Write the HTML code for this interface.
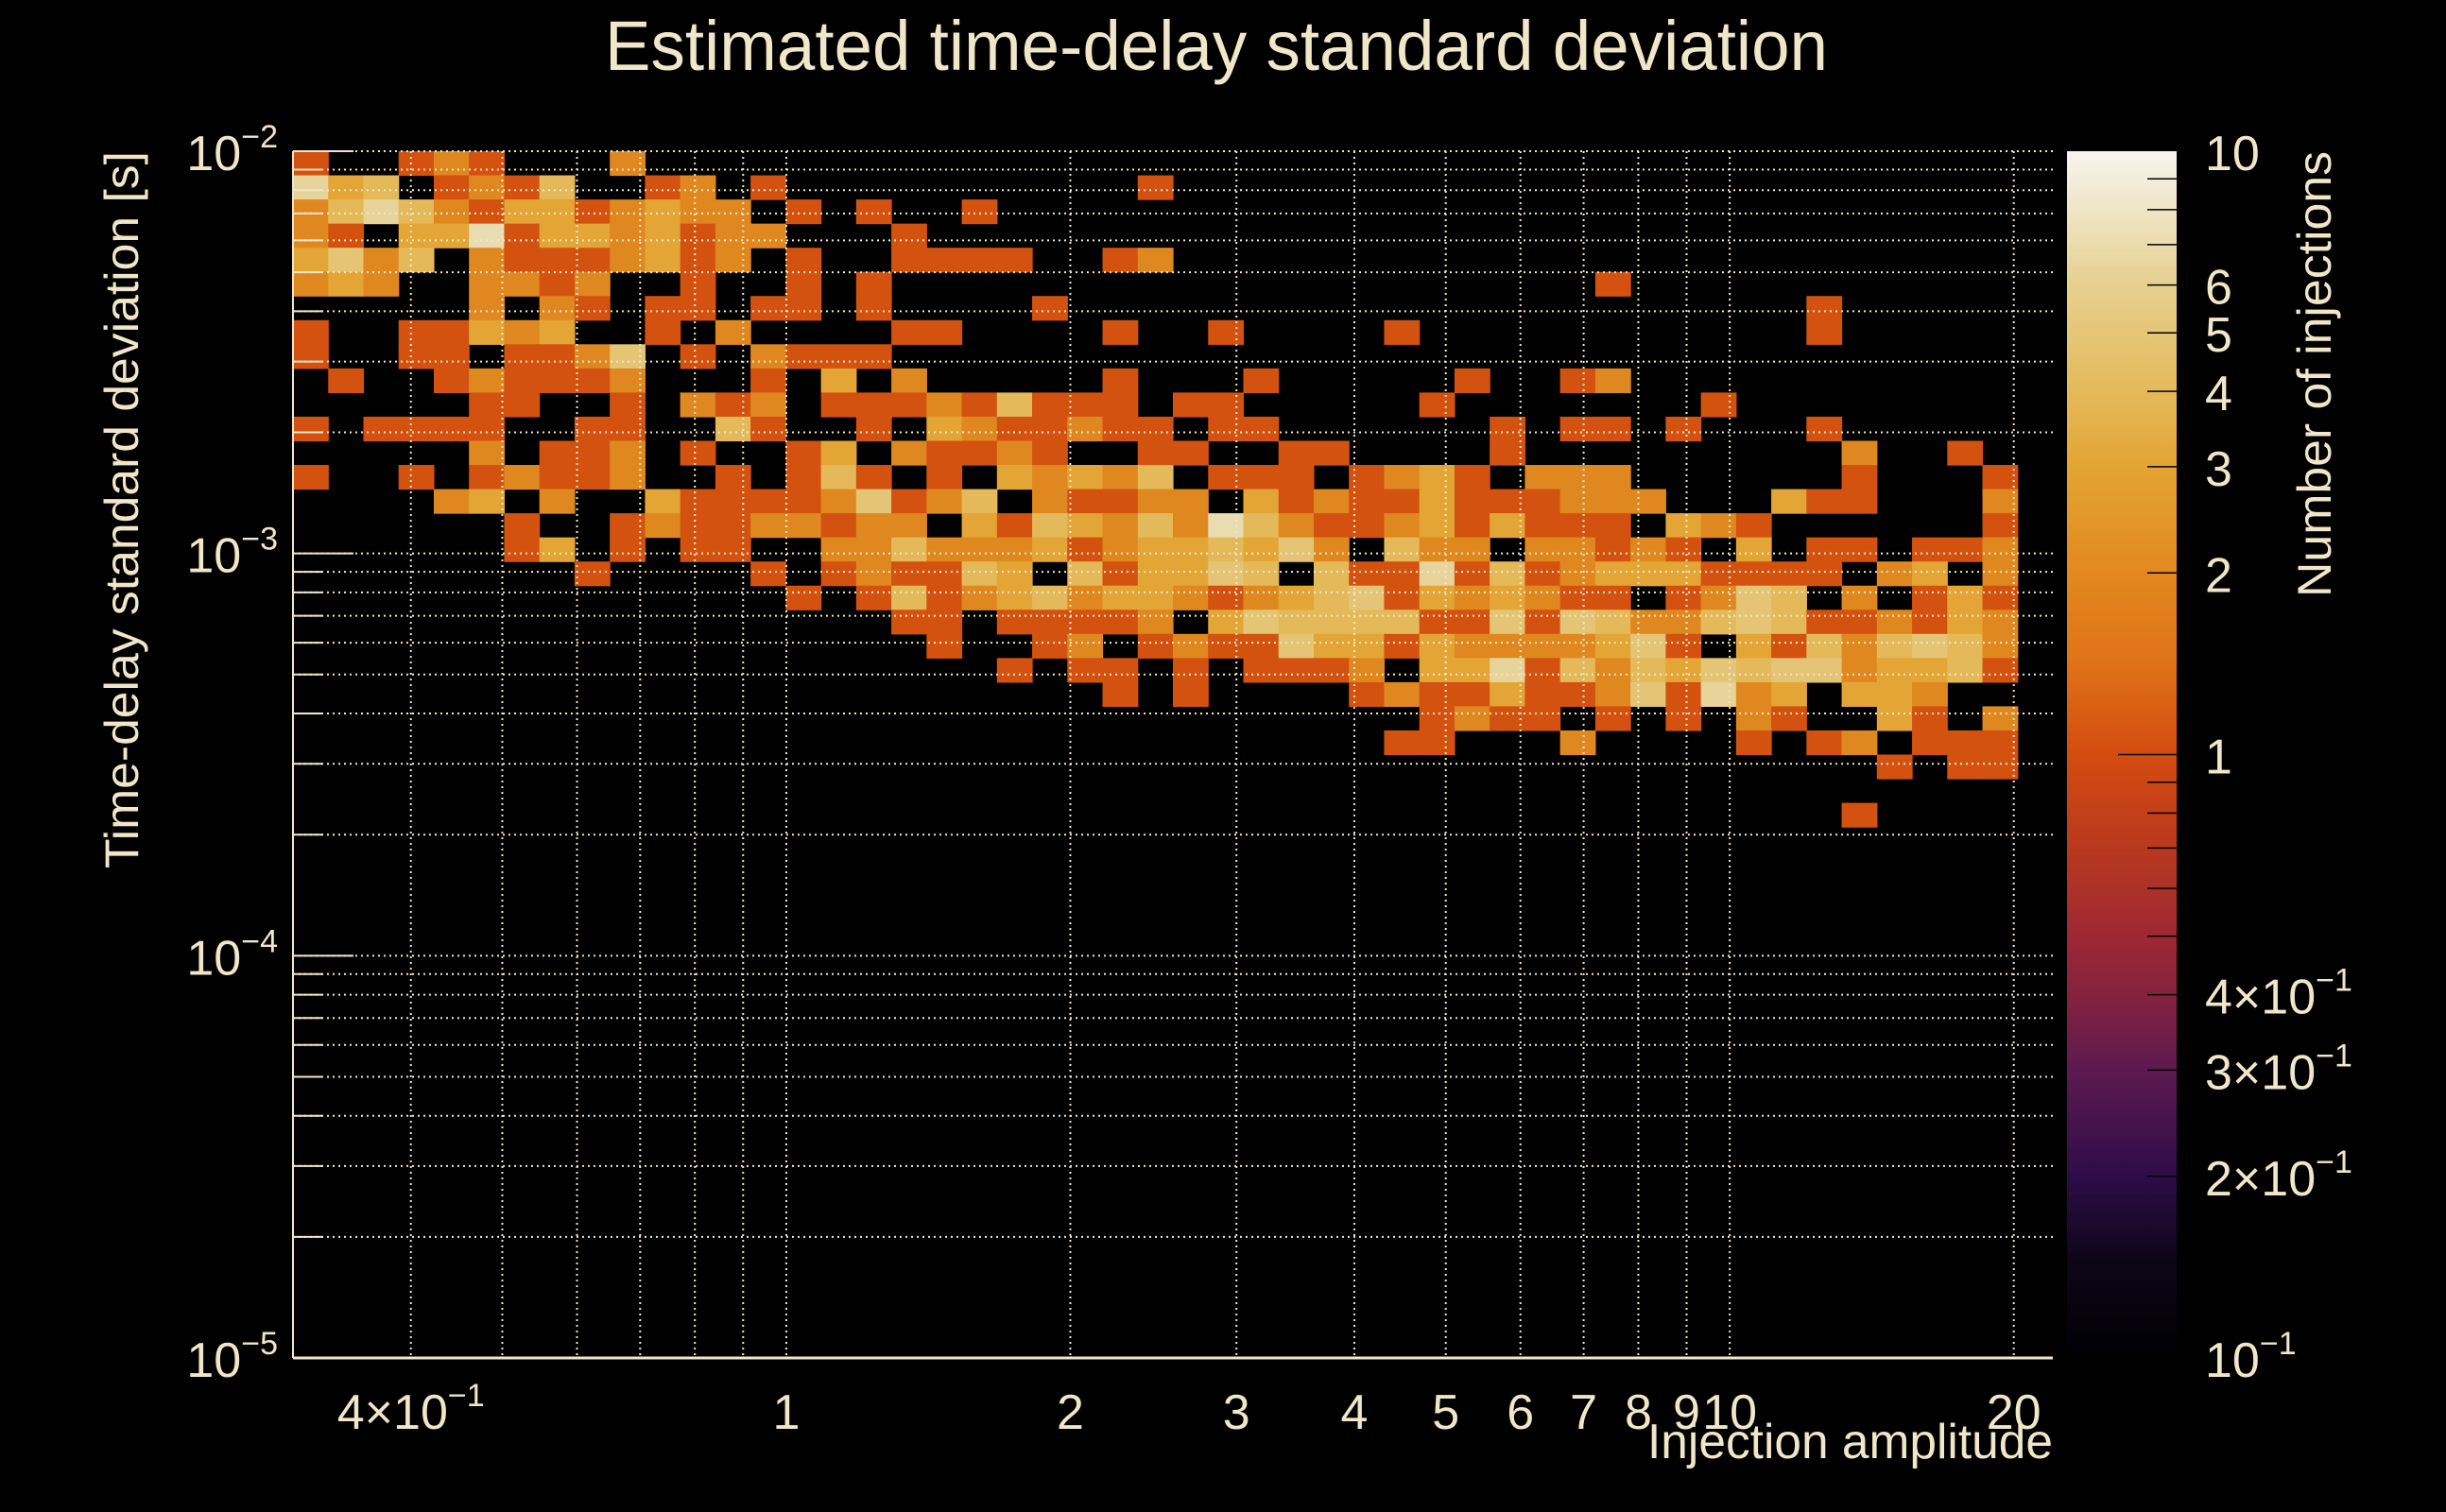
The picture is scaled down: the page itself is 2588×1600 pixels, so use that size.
<!DOCTYPE html>
<html><head><meta charset="utf-8">
<style>
html,body{margin:0;padding:0;background:#000;}
svg{display:block;}
text{font-family:"Liberation Sans",sans-serif;fill:#f0e6c8;}
</style></head>
<body>
<svg id="chart" width="2588" height="1600" viewBox="0 0 2588 1600" xmlns="http://www.w3.org/2000/svg">
<defs>
<linearGradient id="pal" x1="0" y1="1" x2="0" y2="0">
<stop offset="0" stop-color="#000004"/>
<stop offset="0.08" stop-color="#0d0618"/>
<stop offset="0.15" stop-color="#2e0c48"/>
<stop offset="0.24" stop-color="#5e1a50"/>
<stop offset="0.30" stop-color="#84223f"/>
<stop offset="0.35" stop-color="#9e2834"/>
<stop offset="0.42" stop-color="#b8381f"/>
<stop offset="0.50" stop-color="#d44c10"/>
<stop offset="0.58" stop-color="#df7418"/>
<stop offset="0.65" stop-color="#e3881e"/>
<stop offset="0.74" stop-color="#e3a535"/>
<stop offset="0.80" stop-color="#e4b95a"/>
<stop offset="0.89" stop-color="#e6d090"/>
<stop offset="1" stop-color="#f7f5ef"/>
</linearGradient>
</defs>
<text x="1287" y="74" font-size="74" text-anchor="middle" textLength="1294" lengthAdjust="spacingAndGlyphs">Estimated time-delay standard deviation</text>
<g id="cells"></g>
<g id="grid"></g>
<g id="axes"></g>
<text transform="translate(146,919) rotate(-90)" font-size="50" textLength="759" lengthAdjust="spacingAndGlyphs">Time-delay standard deviation [s]</text>
<text x="2172" y="1543" font-size="52" text-anchor="end" textLength="429" lengthAdjust="spacingAndGlyphs">Injection amplitude</text>
<rect x="2187" y="160" width="116" height="1277" fill="url(#pal)"/>
<g id="cbaxis"></g>
<text transform="translate(2466,632) rotate(-90)" font-size="50" textLength="472" lengthAdjust="spacingAndGlyphs">Number of injections</text>
</svg>
<script>
// ---- data ----
const nBinsX = 50, nBinsY = 50;
const xRange = [0.3, 22];
const yRange = [1e-5, 1e-2];
// counts per row (row 0 = top, largest std-dev bin); three column segments: cols 0-16, 17-33, 34-49
const segA = ["10012100020000000","63401214001201000","24642133123220101","21033713323122000","35240211123120100","23200221200100101","00000202101101101","10011323001020000","10011011250102111","01001211120001030","00000110010212011","10111100110041001","00000201120100130","10010121120010141","00002302003111125","00000010012112212","00000013010110022","00000000100001012","00000000000000101"];
const segB = ["00000000000000000","00000001000000000","00100000000000000","10000000000000000","11110012000000000","00000000000000000","00001000000000000","11000010010000100","00000000000000000","20000010001000001","12141110110000010","03211211011000000","21121001100110000","01032324011101231","12402112203121131","20314324274211231","42223123343520422","11430413354041161","41234233212345132","11011112035444411","01001201211533132","00010110101112033","00000010100001211","00000000000000012","00000000000000110"];
const segC = ["0000000000000000","0000000000000000","0000000000000000","0000000000000000","0000000000000000","0001000000000000","0000000001000000","0000000001000000","0000000000000000","0012000000000000","0000001000000000","1011010001000000","1000000000200100","0222000000100010","1122200031100020","3111032100000010","0221210301101120","4123331111023020","3211012540201310","5154224541121320","2223510314245420","6142435455233410","3112516230332000","1101010210031020","0020000101201110","0000000000010110","0000000000000000","0000000000100000"];
const xTickValues = [0.4, 1, 2, 3, 4, 5, 6, 7, 8, 9, 10, 20];
const xTickLabels = ["4×10", "1", "2", "3", "4", "5", "6", "7", "8", "9", "10", "20"];
const yMajorExps = [-2, -3, -4, -5];
const cbTickValues = [10, 6, 5, 4, 3, 2, 1, 0.4, 0.3, 0.2, 0.1];
const cbTickLabels = ["10", "6", "5", "4", "3", "2", "1", "4×10", "3×10", "2×10", "10"];

// ---- layout ----
const PL = 310, PR = 2172, PT = 160, PB = 1437;
const lx0 = Math.log10(xRange[0]), lx1 = Math.log10(xRange[1]);
const ly0 = Math.log10(yRange[0]), ly1 = Math.log10(yRange[1]);
function xS(v){ return PL + (Math.log10(v) - lx0) / (lx1 - lx0) * (PR - PL); }
function yS(v){ return PB - (Math.log10(v) - ly0) / (ly1 - ly0) * (PB - PT); }
function cbS(v){ return PB - (Math.log10(v) + 1) / 2 * (PB - PT); }
const palette = ["#000000","#d35210","#e08820","#e3a535","#e4b95a","#e4c575","#e6d49a","#e9dcb0","#eee5c4","#f2ecd6"];
const NS = "http://www.w3.org/2000/svg";
function mk(tag, attrs, parent){ const e = document.createElementNS(NS, tag); for (const k in attrs) e.setAttribute(k, attrs[k]); parent.appendChild(e); return e; }

function countAt(r, c){
  let s, o;
  if (c < 17){ s = segA[r]; o = c; } else if (c < 34){ s = segB[r]; o = c - 17; } else { s = segC[r]; o = c - 34; }
  if (!s) return 0;
  const ch = s.charAt(o);
  return ch ? parseInt(ch, 10) : 0;
}

// ---- cells ----
const cells = document.getElementById('cells');
const dlx = (lx1 - lx0) / nBinsX, dly = (ly1 - ly0) / nBinsY;
for (let r = 0; r < nBinsY; r++){
  const yHi = Math.pow(10, ly1 - r * dly), yLo = Math.pow(10, ly1 - (r + 1) * dly);
  for (let c = 0; c < nBinsX; c++){
    const n = countAt(r, c);
    if (!n) continue;
    const xLo = Math.pow(10, lx0 + c * dlx), xHi = Math.pow(10, lx0 + (c + 1) * dlx);
    const x0 = xS(xLo), x1 = xS(xHi), y0 = yS(yHi), y1 = yS(yLo);
    const rect = mk('rect', {x: x0.toFixed(2), y: y0.toFixed(2), width: (x1 - x0 + 0.6).toFixed(2), height: (y1 - y0 + 0.6).toFixed(2), fill: palette[Math.min(n, 9)]}, cells);
    
    
  }
}

// ---- grid ----
const grid = document.getElementById('grid');
const gstyle = {stroke: "#f0e6c8", "stroke-width": 2, "stroke-dasharray": "2,4"};
for (const v of xTickValues.concat([0.5,0.6,0.7,0.8,0.9])){
  const x = xS(v);
  const l = mk('line', Object.assign({x1: x, x2: x, y1: PT, y2: PB}, gstyle), grid);
  
  
}
for (let e = -5; e < -2; e++){
  for (let m = 1; m <= 9; m++){
    const v = m * Math.pow(10, e);
    const y = yS(v);
    const l = mk('line', Object.assign({x1: PL, x2: PR, y1: y, y2: y}, gstyle), grid);
    
    
  }
}
{
  const l = mk('line', Object.assign({x1: PL, x2: PR, y1: PT, y2: PT}, gstyle), grid);
  
  
}

// ---- axes ----
const axes = document.getElementById('axes');
const ax1 = mk('line', {x1: PL, x2: PL, y1: PT, y2: PB, stroke: "#f0e6c8", "stroke-width": 2}, axes);


const ax2 = mk('line', {x1: PL, x2: PR, y1: PB, y2: PB, stroke: "#f0e6c8", "stroke-width": 3}, axes);


for (let e = -5; e < -1; e++){
  for (let m = 1; m <= 9; m++){
    if (e === -2 && m > 1) break;
    const y = yS(m * Math.pow(10, e));
    const t = mk('line', {x1: PL, x2: PL + (m === 1 ? 64 : 32), y1: y, y2: y, stroke: "#f0e6c8", "stroke-width": 2}, axes);
    
    
  }
}
yMajorExps.forEach(function(e){
  const y = yS(Math.pow(10, e));
  const t = mk('text', {x: 294, y: y + 20, "font-size": 52, "text-anchor": "end"}, axes);
  
  
  t.textContent = "10";
  const s = mk('tspan', {dy: -24, "font-size": 34}, t);
  s.textContent = "−" + (-e);
});
xTickValues.forEach(function(v, i){
  const x = xS(v);
  const t = mk('text', {x: x, y: 1512, "font-size": 52, "text-anchor": "middle"}, axes);
  
  
  t.textContent = xTickLabels[i];
  if (v === 0.4){
    const s = mk('tspan', {dy: -24, "font-size": 34}, t);
    s.textContent = "−1";
  }
});

// ---- colour scale axis ----
const cb = document.getElementById('cbaxis');
for (let e = -1; e < 1; e++){
  for (let m = 1; m <= 9; m++){
    const v = m * Math.pow(10, e);
    if (v <= 0.1) continue;
    const y = cbS(v);
    const t = mk('line', {x1: (v === 1 ? 2241 : 2272), x2: 2303, y1: y, y2: y, stroke: "#000", "stroke-width": 1.5}, cb);
    
    
  }
}
cbTickValues.forEach(function(v, i){
  const y = cbS(v);
  const t = mk('text', {x: 2333, y: y + 20, "font-size": 52}, cb);
  
  
  t.textContent = cbTickLabels[i];
  if (v < 1){
    const s = mk('tspan', {dy: -24, "font-size": 34}, t);
    s.textContent = "−1";
  }
});
</script>
</body></html>
